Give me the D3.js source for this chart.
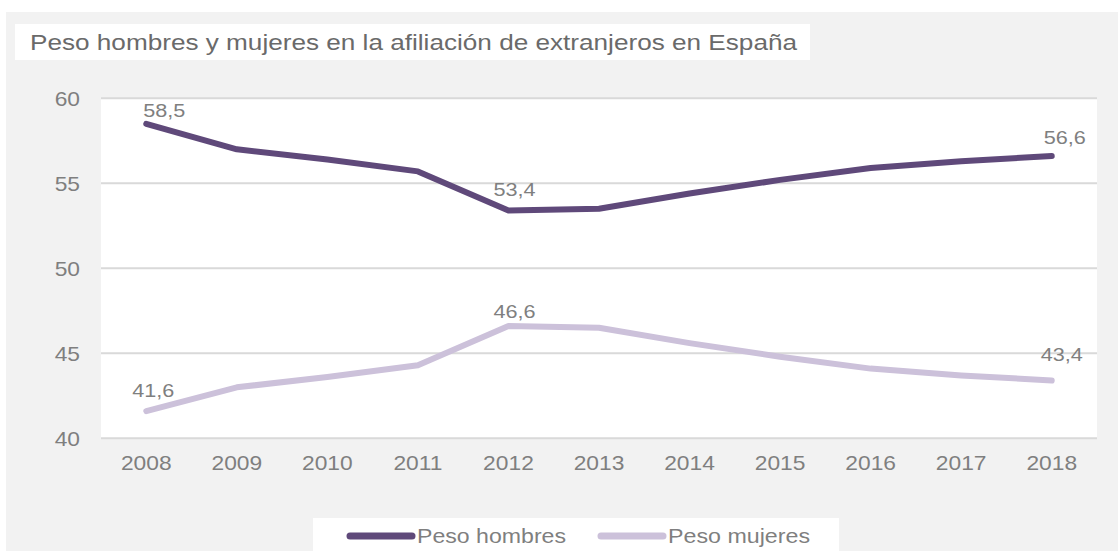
<!DOCTYPE html>
<html lang="es">

<head>
    <meta charset="UTF-8">
    <title>Peso hombres y mujeres en la afiliación de extranjeros en España</title>
    <style>
    body {
        margin: 0;
        background: #fff;
    }

    text {
        font-family: "Liberation Sans", Arial, sans-serif;
    }

    .tick text {
        font-size: 20px;
        fill: #7f7f7f;
    }

    .tick line,
    .domain {
        display: none;
    }
    </style>
</head>

<body>
    <svg width="1118" height="551"></svg>
    <script src="https://d3js.org/d3.v7.min.js"></script>
</body>
<script>
var years = ["2008", "2009", "2010", "2011", "2012", "2013", "2014", "2015", "2016", "2017", "2018"];
var hombres = [58.5, 57.0, 56.4, 55.7, 53.4, 53.5, 54.4, 55.2, 55.9, 56.3, 56.6];
var mujeres = [41.6, 43.0, 43.6, 44.3, 46.6, 46.5, 45.6, 44.8, 44.1, 43.7, 43.4];
var yTicks = [40, 45, 50, 55, 60];
var seriesNames = ["Peso hombres", "Peso mujeres"];
var colors = ["#5f497a", "#ccc1da"];

var svg = d3.select("svg"),
    stretch = 1.14; // el texto original está algo ensanchado

// fondo gris y cuadro del título
svg.append("rect").attr("x", 6).attr("y", 12).attr("width", 1112).attr("height", 539).attr("fill", "#f2f2f2");
svg.append("rect").attr("x", 15).attr("y", 24).attr("width", 795).attr("height", 36).attr("fill", "#fff");
svg.append("text")
    .attr("x", 30).attr("y", 50)
    .attr("textLength", 767).attr("lengthAdjust", "spacingAndGlyphs")
    .style("font-size", "22px").style("fill", "#6a6a6a")
    .text("Peso hombres y mujeres en la afiliación de extranjeros en España");

var x = d3.scaleBand().domain(years).range([101, 1097]),
    y = d3.scaleLinear().domain([40, 60]).range([438.3, 98.3]);

// área de trazado
svg.append("rect").attr("x", 101).attr("y", y(60)).attr("width", 996).attr("height", y(40) - y(60)).attr("fill", "#fff");

svg.append("g").selectAll("line")
    .data(yTicks)
    .join("line")
    .attr("x1", 101).attr("x2", 1097)
    .attr("y1", function(d) { return y(d); })
    .attr("y2", function(d) { return y(d); })
    .attr("stroke", "#d9d9d9").attr("stroke-width", 2);

// el escalado horizontal va dentro de cada texto
svg.append("g")
    .attr("transform", "translate(0,438)")
    .call(d3.axisBottom(x).tickSize(0).tickPadding(0))
    .selectAll("text")
    .attr("x", 0).attr("y", 32).attr("dy", 0)
    .attr("transform", "scale(" + stretch + ",1)");

svg.append("g")
    .attr("transform", "translate(80,0)")
    .call(d3.axisLeft(y).tickValues(yTicks).tickSize(0).tickPadding(0))
    .selectAll("text")
    .attr("x", 0).attr("dy", "0.35em")
    .attr("transform", "scale(" + stretch + ",1)");

var line = d3.line()
    .x(function(d, i) { return x(years[i]) + x.bandwidth() / 2; })
    .y(function(d) { return y(d); });

[hombres, mujeres].forEach(function(s, k) {
    svg.append("path")
        .datum(s)
        .attr("d", line)
        .attr("fill", "none")
        .attr("stroke", colors[k])
        .attr("stroke-width", 6)
        .attr("stroke-linecap", "round")
        .attr("stroke-linejoin", "round");
});

// etiquetas de datos: primer año, 2012 y último año
var fmt = function(v) { return d3.format(".1f")(v).replace(".", ","); };
var labels = [
    { s: hombres, i: 0, dx: 18, dy: -7 },
    { s: hombres, i: 4, dx: 6, dy: -15 },
    { s: hombres, i: 10, dx: 13, dy: -12 },
    { s: mujeres, i: 0, dx: 7, dy: -14 },
    { s: mujeres, i: 4, dx: 6, dy: -8 },
    { s: mujeres, i: 10, dx: 10, dy: -20 }
];
svg.append("g").selectAll("g")
    .data(labels)
    .join("g")
    .attr("transform", function(d) {
        return "translate(" + (x(years[d.i]) + x.bandwidth() / 2 + d.dx) + "," + (y(d.s[d.i]) + d.dy) + ")";
    })
    .append("text")
    .attr("text-anchor", "middle")
    .attr("transform", "scale(" + stretch + ",1)")
    .style("font-size", "19px").style("fill", "#7f7f7f")
    .text(function(d) { return fmt(d.s[d.i]); });

// leyenda
svg.append("rect").attr("x", 313).attr("y", 518).attr("width", 526).attr("height", 33).attr("fill", "#fff");
var legendX = [350, 601];
var legend = svg.append("g").selectAll("g")
    .data(seriesNames)
    .join("g")
    .attr("transform", function(d, i) { return "translate(" + legendX[i] + ",536)"; });
legend.append("line")
    .attr("x1", 0).attr("x2", 62)
    .attr("stroke", function(d, i) { return colors[i]; })
    .attr("stroke-width", 7)
    .attr("stroke-linecap", "round");
legend.append("text")
    .attr("x", 67).attr("y", 7)
    .attr("textLength", function(d, i) { return i ? 142 : 149; })
    .attr("lengthAdjust", "spacingAndGlyphs")
    .style("font-size", "20px").style("fill", "#7f7f7f")
    .text(function(d) { return d; });
</script>

</html>
